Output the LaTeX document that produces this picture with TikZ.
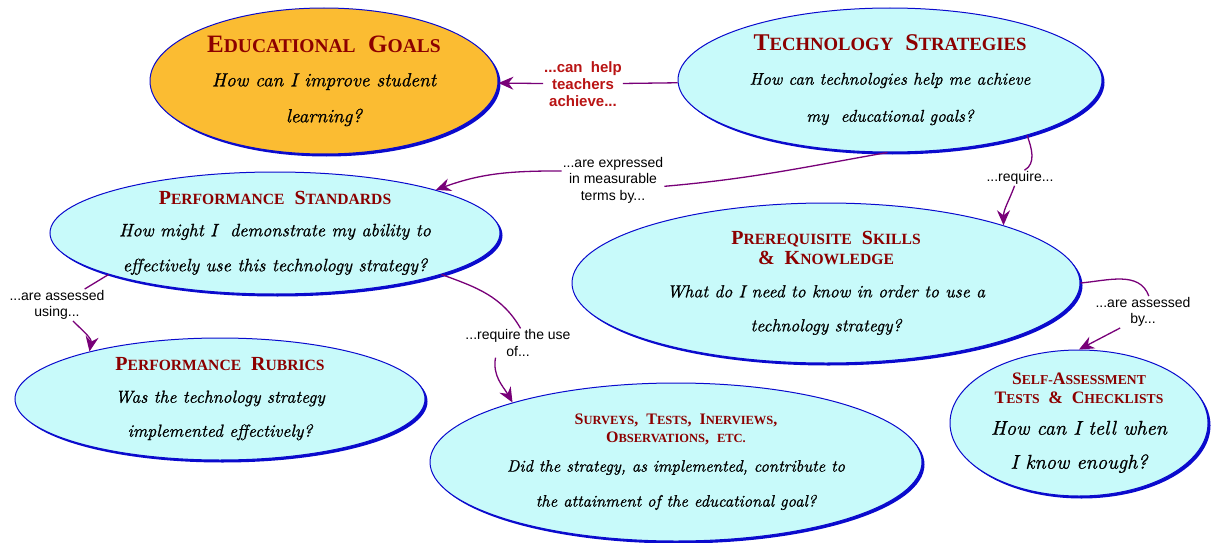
\documentclass[tikz,border=0pt]{standalone}
\usepackage{fontspec}
\usetikzlibrary{shapes.geometric,arrows.meta,shadows}

\newfontfamily\ttlfont{Liberation Serif}
\newfontfamily\lblfont{Liberation Sans}
\newfontfamily\bodyfont{lmroman10-italic.otf}[FakeBold=0.8]

\definecolor{bblue}{RGB}{10,10,205}
\definecolor{bcyan}{RGB}{200,250,250}
\definecolor{bgold}{RGB}{251,188,50}
\definecolor{ttlred}{RGB}{140,0,0}
\definecolor{helpred}{RGB}{185,20,20}
\definecolor{lnpurple}{RGB}{120,0,120}

% fake small caps: big first letter, smaller capitals after it
\makeatletter
\newcommand\bc[2]{#1{\fontsize{\fpeval{0.78*\f@size}}{20}\selectfont#2}}
\makeatother
\newcommand\ttl[2]{{\ttlfont\bfseries\upshape\color{ttlred}\fontsize{#1}{20}\selectfont#2}}

\tikzset{
  bubble/.style={ellipse, draw=bblue, line width=1pt, fill=bcyan, inner sep=0pt,
    drop shadow={shadow xshift=2.5pt, shadow yshift=-2.5pt, fill=bblue, opacity=1}},
  words/.style={align=center, inner sep=0pt, font=\bodyfont\fontsize{#1}{20}\selectfont},
  words/.default=19,
  note/.style={align=center, inner sep=1pt, font=\lblfont\fontsize{14}{16.5}\selectfont},
  link/.style={draw=lnpurple, line width=1.3pt},
  tip/.style={-{Stealth[length=15pt,width=13pt,inset=5pt]}},
}

\begin{document}
\begin{tikzpicture}[x=1pt,y=1pt]
\useasboundingbox (0,0) rectangle (1213,-543);

% the seven bubbles
\node[bubble, fill=bgold, minimum width=348pt, minimum height=146pt] (goals) at (324,-81) {};
\node[bubble, minimum width=424pt, minimum height=144pt] (tech) at (890,-80) {};
\node[bubble, minimum width=450pt, minimum height=122pt] (perf) at (275,-233) {};
\node[bubble, minimum width=508pt, minimum height=160pt] (prereq) at (826,-283) {};
\node[bubble, minimum width=410pt, minimum height=122pt] (rubrics) at (220,-399) {};
\node[bubble, minimum width=492pt, minimum height=158pt] (surveys) at (676,-462) {};
\node[bubble, minimum width=258pt, minimum height=146pt] (selfa) at (1079,-423) {};

% their texts
\node[words] (goalstxt) at (goals) {\ttl{25}{\bc{E}{DUCATIONAL}\ \ \bc{G}{OALS}}\\[14pt]
  How can I improve student\\[16pt] learning?};
\node[words=17] (techtxt) at (tech) {\ttl{24}{\bc{T}{ECHNOLOGY}\ \ \bc{S}{TRATEGIES}}\\[14pt]
  How can technologies help me achieve\\[17pt] my\ \ educational goals?};
\node[words=18] (perftxt) at (perf) {\ttl{20}{\bc{P}{ERFORMANCE}\ \ \bc{S}{TANDARDS}}\\[12pt]
  How might I\ \ demonstrate my ability to\\[15pt] effectively use this technology strategy?};
\node[words=17.5] (prereqtxt) at (prereq) {\ttl{20}{\bc{P}{REREQUISITE}\ \ \bc{S}{KILLS}}\\
  \ttl{20}{\&\ \ \bc{K}{NOWLEDGE}}\\[13pt]
  What do I need to know in order to use a\\[14pt] technology strategy?};
\node[words=17.5] (rubricstxt) at (rubrics) {\ttl{20}{\bc{P}{ERFORMANCE}\ \ \bc{R}{UBRICS}}\\[12pt]
  Was the technology strategy\\[14pt] implemented effectively?};
\node[words=16.5] (surveystxt) at (surveys) {\ttl{16}{\bc{S}{URVEYS},\ \ \bc{T}{ESTS},\ \ \bc{I}{NERVIEWS},}\\[-2pt]
  \ttl{16}{\bc{O}{BSERVATIONS},\ \ \bc{}{ETC.}}\\[9pt]
  Did the strategy, as implemented, contribute to\\[15pt] the attainment of the educational goal?};
\node[words=20] (selfatxt) at (selfa) {\ttl{17.5}{\bc{S}{ELF-}\bc{A}{SSESSMENT}}\\[-1pt]
  \ttl{17.5}{\bc{T}{ESTS}\ \ \&\ \ \bc{C}{HECKLISTS}}\\[11pt]
  How can I tell when\\[14pt] I know enough?};

% link labels
\node[note, font=\lblfont\bfseries\fontsize{15}{17}\selectfont, text=helpred] (lblhelp) at (583,-84)
  {...can\ \ help\\teachers\\achieve...};
\node[note] (lblexp) at (613,-180) {...are expressed\\in measurable\\terms by...};
\node[note] (lblreq) at (1020,-178) {...require...};
\node[note] (lblusing) at (57,-305) {...are assessed\\using...};
\node[note] (lbluse) at (518,-343) {...require the use\\of...};
\node[note] (lblby) at (1143,-312) {...are assessed\\by...};

% connectors
\draw[link] (tech) -- (lblhelp);
\draw[link,tip] (lblhelp) -- (goals);
\draw[link] (tech.268) to[out=190,in=5] (lblexp.-7);
\draw[link,tip] (lblexp.170) to[out=180,in=20] (perf.15);
\draw[link] (tech.338) to[out=-70,in=30] (lblreq.60);
\draw[link,tip] (lblreq.235) to[out=250,in=90] (prereq.18);
\draw[link] (perf.194) -- (lblusing.30);
\draw[link,tip] (lblusing.-45) to[out=-45,in=80] (rubrics.160);
\draw[link] (perf.-14) to[out=-20,in=120] (lbluse.80);
\draw[link,tip] (lbluse.213) to[out=260,in=120] (surveys.160);
\draw[link] (prereq.0) to[out=5,in=110] (lblby.70);
\draw[link,tip] (lblby.215) -- (selfa.90);
\end{tikzpicture}
\end{document}
